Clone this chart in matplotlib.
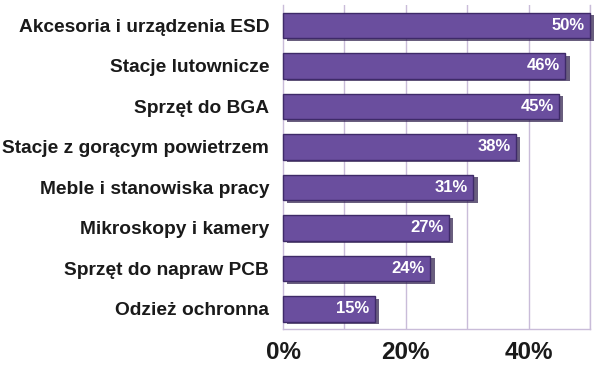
import matplotlib.pyplot as plt
import matplotlib.patheffects as pe

categories = ['Akcesoria i urządzenia ESD', 'Stacje lutownicze', 'Sprzęt do BGA',
              'Stacje z gorącym powietrzem', 'Meble i stanowiska pracy',
              'Mikroskopy i kamery', 'Sprzęt do napraw PCB', 'Odzież ochronna']
values = [50, 46, 45, 38, 31, 27, 24, 15]
xticks = [0, 20, 40]
xtick_labels = ['0%', '20%', '40%']

plt.rcParams['font.family'] = ['Liberation Sans', 'DejaVu Sans']

fig = plt.figure(figsize=(6, 3.68), dpi=100)
ax = fig.add_axes([0.4717, 0.106, 0.5116, 0.880])

pos = list(range(len(categories)))
bars = ax.barh(pos, values, height=0.63, color='#6a4e9e', edgecolor='#3e2a68',
               linewidth=1.0, zorder=3)
for b in bars:
    b.set_clip_on(False)
    b.set_path_effects([pe.SimplePatchShadow(offset=(3, -2), shadow_rgbFace='#2a1a48', alpha=0.7),
                        pe.Normal()])

for p, v in zip(pos, values):
    ax.text(v - 0.9, p, f'{v}%', color='white', fontsize=12, fontweight='bold',
            ha='right', va='center', zorder=4)

ax.set_xlim(0, 50)
ax.set_ylim(len(categories) - 0.5, -0.5)
ax.set_yticks(pos)
ax.set_yticklabels(categories, fontsize=13.8, fontweight='bold', color='#1a1a1a')
ax.set_xticks(xticks)
ax.set_xticklabels(xtick_labels, fontsize=17.5, fontweight='bold', color='#1a1a1a')
ax.tick_params(axis='y', length=0, pad=10)
ax.tick_params(axis='x', length=0, pad=9)

for g in [10, 20, 30, 40, 50]:
    ax.axvline(g, color='#c9bcd9', linewidth=1.0, zorder=1)

ax.spines['top'].set_visible(False)
for s in ['left', 'bottom', 'right']:
    ax.spines[s].set_color('#c9bcd9')
    ax.spines[s].set_linewidth(1.0)

fig.savefig('out.png', dpi=100)
